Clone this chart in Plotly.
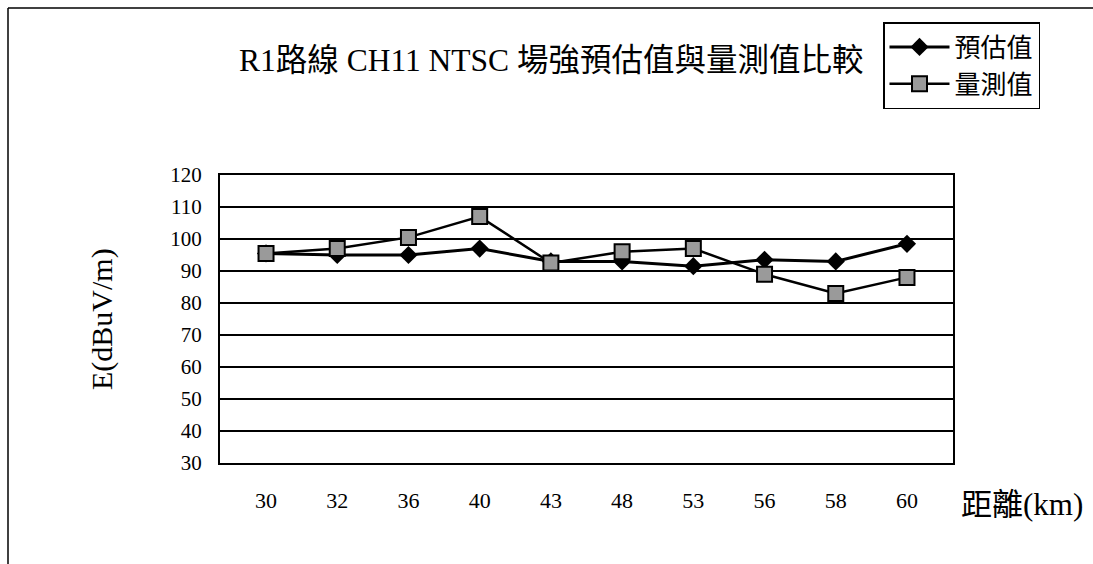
import plotly.graph_objects as go

distance_km = ["30", "32", "36", "40", "43", "48", "53", "56", "58", "60"]
predicted = [95.5, 95, 95, 97, 93, 93, 91.5, 93.5, 93, 98.5]
measured = [95.5, 97, 100.5, 107, 92.5, 96, 97, 89, 83, 88]
y_ticks = [30, 40, 50, 60, 70, 80, 90, 100, 110, 120]

W, H = 1093, 564
L, R, T, B = 220, 953, 175, 463  # plot area in px

def px_x(x):
    return (x - L) / (R - L)

def px_y(y):
    return (B - y) / (B - T)

FONT = "Liberation Serif, Noto Sans CJK TC, serif"

fig = go.Figure()
fig.add_trace(go.Scatter(
    x=distance_km, y=predicted, name="預估值", mode="lines+markers",
    line=dict(color="black", width=3),
    marker=dict(symbol="diamond", size=14, color="black"),
))
fig.add_trace(go.Scatter(
    x=distance_km, y=measured, name="量測值", mode="lines+markers",
    line=dict(color="black", width=2.5),
    marker=dict(symbol="square", size=15, color="#9a9a9a",
                line=dict(color="black", width=2)),
))

fig.update_layout(
    width=W, height=H,
    margin=dict(l=L, r=W - R, t=T, b=H - B),
    paper_bgcolor="white", plot_bgcolor="white",
    font=dict(family=FONT, color="black"),
    showlegend=True,
    legend=dict(
        x=px_x(883), y=px_y(22), xanchor="left", yanchor="top",
        bgcolor="white", bordercolor="black", borderwidth=1.5,
        font=dict(size=26, family=FONT),
        itemwidth=60,
        tracegroupgap=2,
    ),
    xaxis=dict(
        type="category", showgrid=False, zeroline=False,
        showline=True, linecolor="black", linewidth=2, mirror=True,
        ticks="", tickfont=dict(size=22, family=FONT),
        ticklabelstandoff=17,
    ),
    yaxis=dict(
        range=[30, 120], tickvals=y_ticks, ticktext=[str(v) for v in y_ticks],
        showgrid=True, gridcolor="black", gridwidth=1.5, zeroline=False,
        showline=True, linecolor="black", linewidth=2, mirror=True,
        ticks="", tickfont=dict(size=21, family=FONT),
        ticklabelstandoff=12,
    ),
    annotations=[
        dict(text="R1路線 CH11 NTSC 場強預估值與量測值比較",
             x=px_x(551), y=px_y(60), xref="paper", yref="paper",
             xanchor="center", yanchor="middle", showarrow=False,
             font=dict(size=31.5, family=FONT)),
        dict(text="E(dBuV/m)", x=px_x(102), y=0.5, xref="paper", yref="paper",
             xanchor="center", yanchor="middle", showarrow=False, textangle=-90,
             font=dict(size=30, family=FONT)),
        dict(text="距離(km)", x=px_x(1022), y=px_y(504), xref="paper", yref="paper",
             xanchor="center", yanchor="middle", showarrow=False,
             font=dict(size=31, family=FONT)),
    ],
    shapes=[
        dict(type="line", xref="paper", yref="paper",
             x0=px_x(8), x1=px_x(1093), y0=px_y(8), y1=px_y(8),
             line=dict(color="black", width=1.5)),
        dict(type="line", xref="paper", yref="paper",
             x0=px_x(8), x1=px_x(8), y0=px_y(8), y1=px_y(564),
             line=dict(color="black", width=1.5)),
    ],
)

fig.write_html("out.html")
